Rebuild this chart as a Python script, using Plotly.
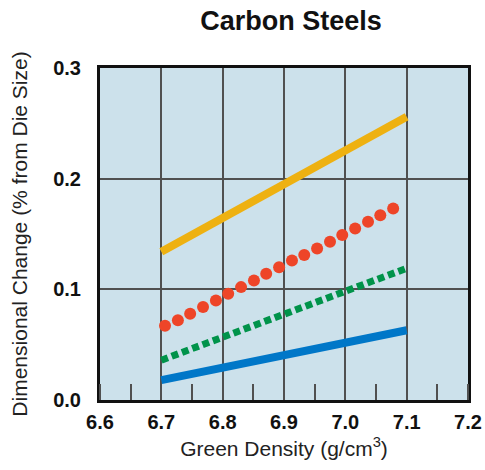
import plotly.graph_objects as go

# Data
density_ends = [6.7, 7.1]
yellow_vals = [0.134, 0.256]
green_vals = [0.036, 0.119]
blue_vals = [0.018, 0.063]

red_x = [6.706, 6.727, 6.747, 6.768, 6.789, 6.809, 6.830, 6.851, 6.871, 6.892,
         6.913, 6.933, 6.954, 6.975, 6.995, 7.016, 7.037, 7.057, 7.078]
red_y = [0.067, 0.072, 0.078, 0.084, 0.090, 0.096, 0.102, 0.108, 0.114, 0.120,
         0.126, 0.131, 0.137, 0.143, 0.149, 0.155, 0.161, 0.167, 0.173]

x_ticks = [6.6, 6.7, 6.8, 6.9, 7.0, 7.1, 7.2]
y_ticks = [0.0, 0.1, 0.2, 0.3]

BOLD = "Liberation Sans, Arial, Helvetica, sans-serif"
REG = "Liberation Sans, Arial, Helvetica, sans-serif"

fig = go.Figure()
fig.add_trace(go.Scatter(x=density_ends, y=yellow_vals, mode="lines",
                         line=dict(color="#EEB111", width=8)))
fig.add_trace(go.Scatter(x=red_x, y=red_y, mode="markers",
                         marker=dict(color="#EE4528", size=12, line=dict(width=0))))
fig.add_trace(go.Scatter(x=density_ends, y=green_vals, mode="lines",
                         line=dict(color="#00934A", width=7, dash="7px,4px")))
fig.add_trace(go.Scatter(x=density_ends, y=blue_vals, mode="lines",
                         line=dict(color="#0077C8", width=8)))

fig.update_layout(
    width=485, height=470,
    margin=dict(l=100, r=17, t=68, b=70),
    paper_bgcolor="white",
    plot_bgcolor="#CCE1EB",
    showlegend=False,
    title=dict(text="Carbon Steels", x=0.6, xanchor="center", y=0.956, yanchor="middle",
               font=dict(family=BOLD, size=27, color="#111", weight="bold")),
)
fig.update_xaxes(
    range=[6.6, 7.2], tickvals=x_ticks, ticktext=[f"{v:.1f}" for v in x_ticks],
    tickfont=dict(family=BOLD, size=20, color="#111", weight="bold"),
    showgrid=True, gridcolor="#505050", gridwidth=2,
    showline=True, linecolor="#111", linewidth=3, mirror=True,
    ticks="", ticklabelstandoff=2, zeroline=False, automargin=False,
    minor=dict(dtick=0.05, tick0=6.6, ticks="inside", ticklen=16, tickcolor="#505050",
               tickwidth=2, showgrid=False),
    title=dict(text="Green Density (g/cm<sup>3</sup>)", standoff=10,
               font=dict(family=REG, size=21, color="#222")),
)
fig.update_yaxes(
    range=[0, 0.3], tickvals=y_ticks, ticktext=[f"{v:.1f}" for v in y_ticks],
    tickfont=dict(family=BOLD, size=20, color="#111", weight="bold"),
    showgrid=True, gridcolor="#505050", gridwidth=2,
    showline=True, linecolor="#111", linewidth=3, mirror=True,
    ticks="", zeroline=False, ticklabelstandoff=12, automargin=False,
    title=dict(text="Dimensional Change (% from Die Size)", standoff=20,
               font=dict(family=REG, size=21, color="#222")),
)

# Remove the default page margin so the figure fills the window exactly.
fig.write_html("out.html", config={"displayModeBar": False},
               post_script="document.body.style.margin='0';")
